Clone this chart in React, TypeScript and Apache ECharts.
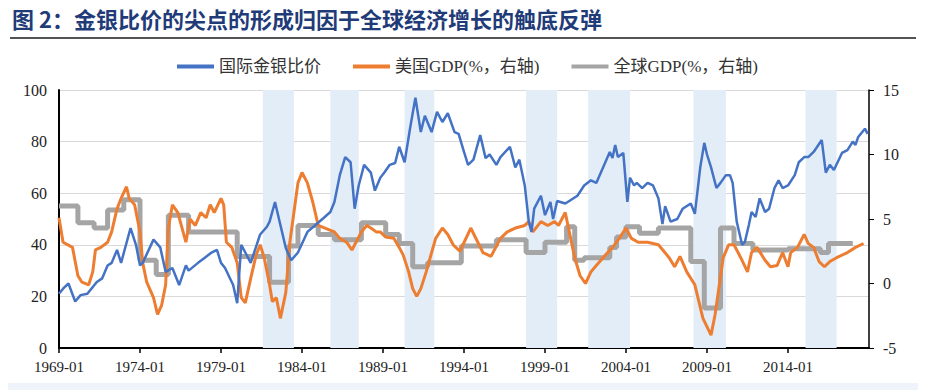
import React, { useEffect, useRef } from "react";
import * as echarts from "echarts";

const START_YEAR = 1969;
const END_INDEX = 600; // 2019-01

const titleText = "图 2：金银比价的尖点的形成归因于全球经济增长的触底反弹";
const seriesNames = ["国际金银比价", "美国GDP(%，右轴)", "全球GDP(%，右轴)"];

// shaded periods
const bands: [string, string][] = [
  ["1981-08", "1983-07"],
  ["1985-10", "1987-07"],
  ["1990-05", "1992-03"],
  ["1997-11", "1999-10"],
  ["2001-09", "2004-04"],
  ["2008-03", "2010-03"],
  ["2015-02", "2017-01"],
];

// gold / silver price ratio (left axis)
const goldSilverRatio: [string, number][] = [
  ["1969-01", 21], ["1969-04", 23], ["1969-08", 25], ["1970-01", 18], ["1970-05", 20.5],
  ["1970-10", 21], ["1971-05", 25.6], ["1971-09", 27], ["1972-01", 32], ["1972-04", 33],
  ["1972-08", 38], ["1972-11", 33], ["1973-06", 46.5], ["1973-10", 40], ["1974-01", 32],
  ["1974-03", 33], ["1974-11", 42], ["1975-04", 39], ["1975-08", 29.5], ["1976-01", 31],
  ["1976-06", 24.4], ["1976-11", 32], ["1977-01", 30], ["1977-08", 33], ["1978-01", 35],
  ["1978-06", 37], ["1978-10", 38], ["1979-01", 33], ["1979-04", 31], ["1979-10", 24.4],
  ["1980-01", 17.4], ["1980-04", 40], ["1980-07", 37], ["1980-11", 33], ["1981-06", 44],
  ["1981-11", 47], ["1982-01", 49], ["1982-05", 56.6], ["1982-09", 47.7], ["1983-01", 38.8],
  ["1983-05", 34], ["1983-10", 37], ["1984-05", 45], ["1984-11", 47.7], ["1985-05", 50.4],
  ["1985-10", 52.7], ["1986-01", 56.6], ["1986-05", 67], ["1986-09", 74], ["1987-01", 72],
  ["1987-04", 54], ["1987-07", 63], ["1987-11", 71], ["1988-04", 68], ["1988-07", 61],
  ["1988-11", 66], ["1989-02", 68], ["1989-06", 71], ["1989-10", 71.7], ["1990-01", 78],
  ["1990-05", 72], ["1990-09", 85], ["1991-01", 97], ["1991-05", 83.7], ["1991-08", 90],
  ["1992-01", 83.7], ["1992-05", 91.5], ["1992-09", 87.6], ["1993-01", 91], ["1993-06", 83.7],
  ["1993-09", 83], ["1994-01", 76], ["1994-04", 71], ["1994-08", 73], ["1995-01", 82.5],
  ["1995-05", 73.6], ["1995-08", 75], ["1996-01", 71], ["1996-04", 74], ["1996-11", 78],
  ["1997-03", 70], ["1997-06", 73], ["1997-10", 63], ["1998-01", 49], ["1998-03", 45],
  ["1998-05", 54], ["1998-10", 59], ["1999-01", 51.5], ["1999-05", 56.6], ["1999-07", 50],
  ["1999-10", 57], ["2000-04", 56], ["2000-07", 57], ["2001-01", 59], ["2001-06", 63],
  ["2001-11", 65], ["2002-03", 64], ["2002-08", 70], ["2003-01", 76], ["2003-03", 73.6],
  ["2003-05", 78.7], ["2003-07", 74], ["2003-11", 75.6], ["2004-02", 56.6], ["2004-04", 66],
  ["2004-07", 63], ["2004-09", 64], ["2005-01", 62], ["2005-05", 64], ["2005-09", 63],
  ["2006-01", 58], ["2006-04", 48], ["2006-06", 55], ["2006-10", 49], ["2007-03", 50],
  ["2007-07", 54], ["2008-01", 56], ["2008-04", 52], ["2008-08", 70], ["2008-11", 79.5],
  ["2009-01", 75], ["2009-04", 70], ["2009-08", 62], ["2009-11", 64], ["2010-03", 67],
  ["2010-06", 67], ["2010-08", 64], ["2010-11", 49], ["2011-03", 40], ["2011-05", 41],
  ["2011-08", 47.7], ["2011-10", 52.7], ["2012-01", 50.8], ["2012-04", 58], ["2012-08", 52.7],
  ["2012-11", 54], ["2013-03", 62], ["2013-06", 65], ["2013-09", 62], ["2014-01", 63],
  ["2014-06", 67], ["2014-09", 72], ["2015-01", 74], ["2015-04", 74], ["2015-08", 76],
  ["2015-10", 77.5], ["2016-02", 80.6], ["2016-05", 68], ["2016-08", 71], ["2016-11", 69],
  ["2017-05", 75.6], ["2017-09", 76.7], ["2018-01", 80], ["2018-03", 78.7], ["2018-05", 81.8],
  ["2018-10", 85], ["2018-12", 83],
];

// US GDP growth, % (right axis)
const usGdp: [string, number][] = [
  ["1969-01", 5.1], ["1969-04", 3.2], ["1969-11", 2.8], ["1970-03", 0.6], ["1970-06", 0.1],
  ["1970-11", -0.1], ["1971-02", 0.9], ["1971-04", 2.6], ["1971-08", 2.8], ["1972-01", 3.2],
  ["1972-04", 4.0], ["1972-08", 5.8], ["1972-11", 6.6], ["1973-03", 7.5], ["1973-05", 6.6],
  ["1973-09", 6.1], ["1974-01", 4.0], ["1974-03", 1.6], ["1974-06", 0.1], ["1974-11", -1.1],
  ["1975-02", -2.4], ["1975-05", -1.7], ["1975-08", -0.1], ["1975-10", 4.3], ["1976-01", 6.1],
  ["1976-05", 5.5], ["1976-11", 3.2], ["1977-02", 5.0], ["1977-06", 4.5], ["1977-10", 5.5],
  ["1978-02", 5.1], ["1978-05", 6.1], ["1978-08", 5.5], ["1979-01", 6.6], ["1979-03", 6.1],
  ["1979-05", 3.2], ["1979-09", 2.8], ["1980-01", 1.6], ["1980-04", -1.1], ["1980-07", -1.5],
  ["1980-11", 0.4], ["1981-03", 2.2], ["1981-06", 3.0], ["1981-09", 2.0], ["1982-01", -0.1],
  ["1982-03", -1.4], ["1982-06", -1.1], ["1982-09", -2.7], ["1983-01", -0.7], ["1983-04", 3.2],
  ["1983-07", 5.5], ["1983-10", 7.8], ["1984-01", 8.6], ["1984-05", 7.8], ["1984-09", 6.3],
  ["1985-01", 4.5], ["1985-06", 4.3], ["1986-01", 4.0], ["1986-05", 3.5], ["1986-10", 3.2],
  ["1987-02", 2.6], ["1987-05", 3.2], ["1987-09", 4.0], ["1988-01", 4.5], ["1988-04", 4.3],
  ["1988-08", 4.0], ["1988-11", 4.0], ["1989-03", 3.6], ["1989-09", 3.5], ["1990-01", 2.8],
  ["1990-04", 2.2], ["1990-08", 0.9], ["1990-11", -0.4], ["1991-02", -1.0], ["1991-05", -0.4],
  ["1991-09", 0.9], ["1992-01", 2.4], ["1992-04", 3.5], ["1992-09", 4.3], ["1993-01", 3.8],
  ["1993-05", 3.0], ["1993-10", 2.5], ["1994-06", 4.3], ["1995-03", 2.4], ["1995-09", 2.1],
  ["1996-04", 3.5], ["1996-09", 4.0], ["1997-03", 4.3], ["1997-10", 4.5], ["1998-01", 4.8],
  ["1998-04", 4.0], ["1998-10", 4.8], ["1999-03", 4.5], ["1999-08", 4.8], ["1999-11", 4.5],
  ["2000-04", 5.5], ["2000-07", 4.0], ["2000-11", 2.0], ["2001-03", 0.6], ["2001-07", 0.0],
  ["2001-11", 0.9], ["2002-03", 1.4], ["2002-08", 2.0], ["2003-03", 2.8], ["2003-08", 3.5],
  ["2004-01", 4.3], ["2004-05", 3.5], ["2004-10", 3.2], ["2005-05", 3.2], ["2006-01", 3.0],
  ["2006-09", 2.0], ["2007-01", 1.3], ["2007-05", 2.1], ["2007-10", 0.9], ["2008-04", -0.1],
  ["2008-10", -2.7], ["2009-04", -4.0], ["2009-07", -2.4], ["2010-01", 2.0], ["2010-05", 3.0],
  ["2010-09", 3.0], ["2011-02", 2.0], ["2011-07", 0.9], ["2011-10", 2.4], ["2012-02", 2.8],
  ["2012-08", 1.8], ["2012-12", 1.3], ["2013-05", 1.4], ["2013-09", 2.4], ["2014-01", 1.3],
  ["2014-03", 2.4], ["2014-08", 2.8], ["2015-01", 3.8], ["2015-04", 3.1], ["2015-08", 2.8],
  ["2015-12", 1.7], ["2016-04", 1.3], ["2016-08", 1.7], ["2017-01", 2.0], ["2017-09", 2.4],
  ["2018-03", 2.8], ["2018-09", 3.1],
];

// world GDP growth, % (right axis, step changes)
const worldGdp: [string, number][] = [
  ["1969-01", 6.0], ["1970-03", 4.7], ["1971-03", 4.3], ["1972-01", 5.7], ["1973-01", 6.5],
  ["1974-01", 1.8], ["1975-01", 0.7], ["1975-10", 5.3], ["1977-01", 4.0], ["1980-01", 2.1],
  ["1982-01", 0.1], ["1983-03", 2.9], ["1983-10", 4.5], ["1985-01", 3.8], ["1986-01", 3.4],
  ["1987-09", 4.7], ["1989-03", 3.8], ["1990-01", 3.1], ["1990-11", 1.3], ["1991-10", 1.6],
  ["1993-11", 2.9], ["1996-01", 3.4], ["1997-11", 2.4], ["1999-01", 3.2], ["2000-05", 4.4],
  ["2000-11", 1.8], ["2001-06", 2.0], ["2003-01", 2.8], ["2003-06", 3.6], ["2004-01", 4.4],
  ["2004-11", 3.9], ["2006-01", 4.3], ["2008-01", 1.7], ["2008-11", -1.9], ["2009-11", 4.3],
  ["2010-09", 3.1], ["2011-11", 2.6], ["2014-01", 2.7], ["2016-01", 2.4], ["2016-07", 3.1],
  ["2018-01", 3.1],
];

const toIdx = (d: string) => {
  const [y, m] = d.split("-").map(Number);
  return (y - START_YEAR) * 12 + (m - 1);
};
const conv = (arr: [string, number][]) => arr.map(([d, v]) => [toIdx(d), v]);

const serif = "'Liberation Serif', 'Noto Sans CJK SC', serif";

export default function App() {
  const ref = useRef<HTMLDivElement>(null);
  useEffect(() => {
    if (!ref.current) return;
    const chart = echarts.init(ref.current, undefined, { renderer: "svg" });
    chart.setOption({
      animation: false,
      backgroundColor: "#ffffff",
      graphic: [
        {
          type: "text",
          left: 12,
          top: 7,
          style: {
            text: titleText,
            fontSize: 22,
            fontWeight: "bold",
            fill: "#1f3b78",
            fontFamily: "'Noto Sans CJK SC', sans-serif",
          },
        },
        {
          type: "line",
          shape: { x1: 10, y1: 38, x2: 916, y2: 38 },
          style: { stroke: "#1a1a1a", lineWidth: 1.5 },
        },
        {
          type: "rect",
          shape: { x: 8, y: 383, width: 910, height: 7 },
          style: { fill: "#eef4fa" },
          z: -1,
        },
      ],
      legend: {
        top: 53,
        left: 172,
        itemWidth: 37,
        itemHeight: 4,
        itemGap: 32,
        icon: "rect",
        textStyle: { fontSize: 17, fontFamily: serif, color: "#333" },
        data: seriesNames,
      },
      grid: { left: 59, right: 56, top: 90, bottom: 42 },
      xAxis: {
        type: "value",
        min: 0,
        max: END_INDEX,
        interval: 60,
        axisLine: { show: true, onZero: false, lineStyle: { color: "#000", width: 2 } },
        axisTick: { show: true, length: 5, lineStyle: { color: "#000", width: 1.5 } },
        splitLine: { show: false },
        axisLabel: {
          showMaxLabel: false,
          margin: 11,
          fontSize: 15,
          fontFamily: serif,
          color: "#222",
          formatter: (v: number) => `${START_YEAR + Math.round(v / 12)}-01`,
        },
      },
      yAxis: [
        {
          type: "value",
          min: 0,
          max: 100,
          interval: 20,
          axisLine: { show: true, lineStyle: { color: "#000", width: 2 } },
          axisTick: { show: false },
          splitLine: { show: true, lineStyle: { color: "#d9d9d9", width: 1 } },
          axisLabel: { fontSize: 16, fontFamily: serif, color: "#222", margin: 12 },
        },
        {
          type: "value",
          min: -5,
          max: 15,
          interval: 5,
          position: "right",
          axisLine: { show: true, lineStyle: { color: "#000", width: 1.5 } },
          axisTick: { show: true, length: 5, lineStyle: { color: "#000" } },
          splitLine: { show: false },
          axisLabel: { fontSize: 16, fontFamily: serif, color: "#222", margin: 14 },
        },
      ],
      series: [
        {
          name: seriesNames[0],
          type: "line",
          yAxisIndex: 0,
          data: conv(goldSilverRatio),
          symbol: "none",
          z: 4,
          color: "#4472c4",
          lineStyle: { color: "#4472c4", width: 2.5 },
          markArea: {
            silent: true,
            itemStyle: { color: "#e2edf8" },
            data: bands.map(([a, b]) => [{ xAxis: toIdx(a) }, { xAxis: toIdx(b) }]),
          },
        },
        {
          name: seriesNames[1],
          type: "line",
          yAxisIndex: 1,
          data: conv(usGdp),
          symbol: "none",
          z: 3,
          color: "#ed7d31",
          lineStyle: { color: "#ed7d31", width: 3 },
        },
        {
          name: seriesNames[2],
          type: "line",
          yAxisIndex: 1,
          step: "end",
          data: conv(worldGdp),
          symbol: "none",
          z: 2,
          color: "#a5a5a5",
          lineStyle: { color: "#a5a5a5", width: 5 },
        },
      ],
    });
    return () => chart.dispose();
  }, []);
  return (
    <div
      ref={ref}
      style={{ position: "fixed", left: 0, top: 0, width: 925, height: 390, background: "#fff" }}
    />
  );
}
